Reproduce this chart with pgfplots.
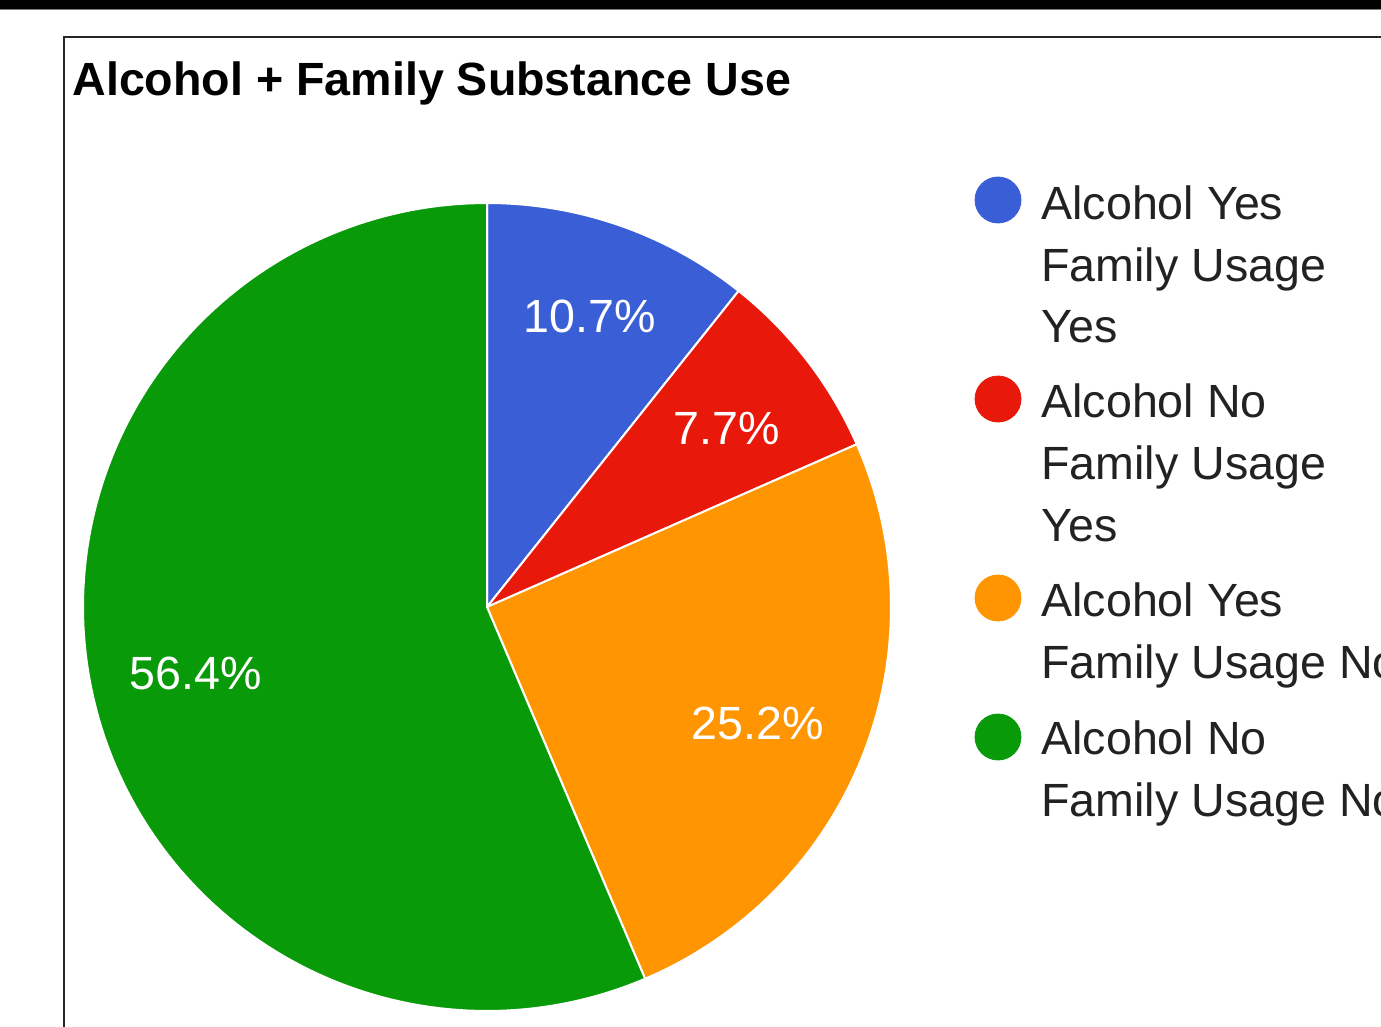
\documentclass[border=0pt]{standalone}
\usepackage{pgfplots}
\usepackage{pgfplotstable}
\pgfplotsset{compat=1.18}
\usepackage{fontspec}
\setmainfont{Liberation Sans}
\definecolor{pieblue}{HTML}{3A5ED6}
\definecolor{piered}{HTML}{E8180A}
\definecolor{pieorange}{HTML}{FF9500}
\definecolor{piegreen}{HTML}{099A09}
\definecolor{legtext}{HTML}{222222}
\newcommand\fs{\fontsize{23.3pt}{28pt}\selectfont}

\pgfplotstableread{
label pct
AYFY 10.7
ANFY 7.7
AYFN 25.2
ANFN 56.4
}\piedata

\begin{document}%
\begin{tikzpicture}
\pgfplotstablegetelem{0}{pct}\of\piedata \global\let\pA\pgfplotsretval
\pgfplotstablegetelem{1}{pct}\of\piedata \global\let\pB\pgfplotsretval
\pgfplotstablegetelem{2}{pct}\of\piedata \global\let\pC\pgfplotsretval
\pgfplotstablegetelem{3}{pct}\of\piedata \global\let\pD\pgfplotsretval
\pgfmathsetmacro\aA{90}
\pgfmathsetmacro\aB{\aA-3.6*\pA}
\pgfmathsetmacro\aC{\aB-3.6*\pB}
\pgfmathsetmacro\aD{\aC-3.6*\pC}
\pgfmathsetmacro\aE{\aD-3.6*\pD}
\useasboundingbox (0,0) rectangle (690.5pt,513.5pt);
\clip (0,0) rectangle (690.5pt,513.5pt);
\begin{axis}[
  at={(0,0)}, anchor=south west,
  scale only axis, width=690.5pt, height=513.5pt,
  xmin=0, xmax=1381, ymin=0, ymax=1027, y dir=reverse,
  hide axis, clip=false,
]
% background
\fill[white] (axis cs:0,0) rectangle (axis cs:1381,1027);
\fill[black] (axis cs:0,0) rectangle (axis cs:1381,9);
\fill[gray] (axis cs:0,9) rectangle (axis cs:1381,10.5);
\draw[black!85, line width=1pt] (axis cs:63.5,1027) -- (axis cs:63.5,37.5) -- (axis cs:1381,37.5);
% pie
\addplot[fill=pieblue, draw=white, line width=1pt, domain=\aB:\aA, samples=60, variable=\t]
  ({487+404*cos(\t)},{607-404*sin(\t)}) -- (axis cs:487,607) -- cycle;
\addplot[fill=piered, draw=white, line width=1pt, domain=\aC:\aB, samples=60, variable=\t]
  ({487+404*cos(\t)},{607-404*sin(\t)}) -- (axis cs:487,607) -- cycle;
\addplot[fill=pieorange, draw=white, line width=1pt, domain=\aD:\aC, samples=80, variable=\t]
  ({487+404*cos(\t)},{607-404*sin(\t)}) -- (axis cs:487,607) -- cycle;
\addplot[fill=piegreen, draw=white, line width=1pt, domain=\aE:\aD, samples=150, variable=\t]
  ({487+404*cos(\t)},{607-404*sin(\t)}) -- (axis cs:487,607) -- cycle;
% slice labels
\node[white, font=\fs] at (axis cs:590,316) {\pA\%};
\node[white, font=\fs] at (axis cs:727,428) {\pB\%};
\node[white, font=\fs] at (axis cs:758,723) {\pC\%};
\node[white, font=\fs] at (axis cs:196,673) {\pD\%};
% title
\node[anchor=base west, font=\fs\bfseries, black, inner sep=0pt] at (axis cs:72,96) {Alcohol + Family Substance Use};
% legend markers
\addplot[only marks, mark=*, mark size=11.5pt, mark options={fill=pieblue, draw=pieblue}] coordinates {(998,200)};
\addplot[only marks, mark=*, mark size=11.5pt, mark options={fill=piered, draw=piered}] coordinates {(998,399)};
\addplot[only marks, mark=*, mark size=11.5pt, mark options={fill=pieorange, draw=pieorange}] coordinates {(998,598)};
\addplot[only marks, mark=*, mark size=11.5pt, mark options={fill=piegreen, draw=piegreen}] coordinates {(998,737)};
% legend text
\begin{scope}[every node/.style={anchor=base west, font=\fs, text=legtext, inner sep=0pt}]
\node at (axis cs:1041,219.5) {Alcohol Yes};
\node at (axis cs:1041,281.5) {Family Usage};
\node at (axis cs:1041,343) {Yes};
\node at (axis cs:1041,417.5) {Alcohol No};
\node at (axis cs:1041,479.5) {Family Usage};
\node at (axis cs:1041,541) {Yes};
\node at (axis cs:1041,616.5) {Alcohol Yes};
\node at (axis cs:1041,678.5) {Family Usage No};
\node at (axis cs:1041,754.5) {Alcohol No};
\node at (axis cs:1041,816.5) {Family Usage No};
\end{scope}
\end{axis}
\end{tikzpicture}%
\end{document}
